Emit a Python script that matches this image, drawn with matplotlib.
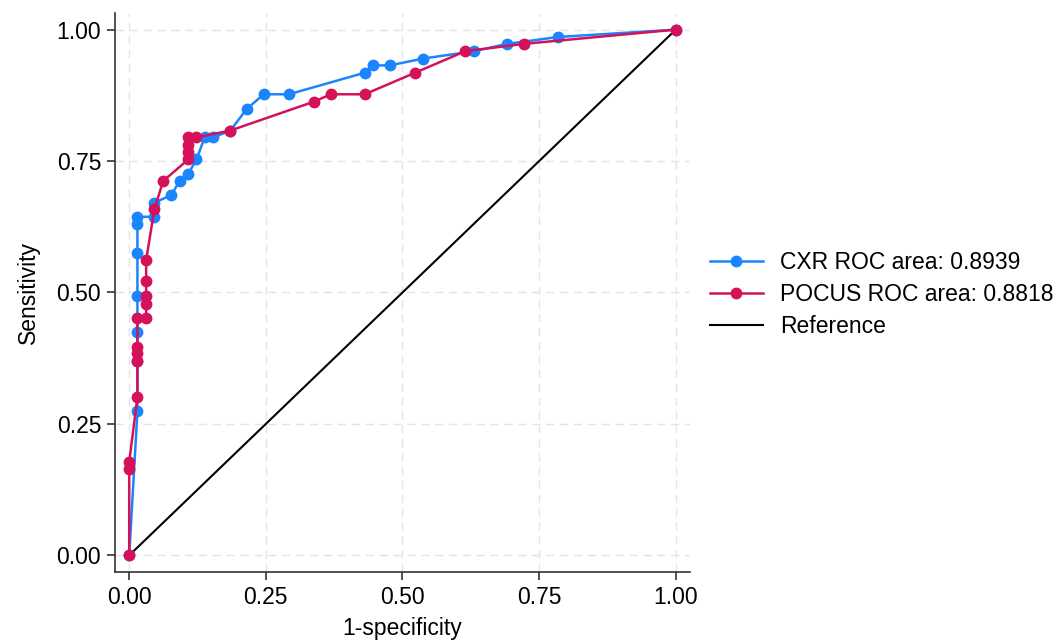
import numpy as np
import matplotlib
matplotlib.use("Agg")
import matplotlib.pyplot as plt

# ---- data ----
cxr_fpr = [0, 0.015, 0.015, 0.015, 0.015, 0.015, 0.015, 0.015, 0.046, 0.046,
           0.077, 0.092, 0.108, 0.123, 0.138, 0.154, 0.185, 0.215, 0.246, 0.292,
           0.431, 0.446, 0.477, 0.538, 0.631, 0.692, 0.785, 1.0]
cxr_tpr = [0, 0.274, 0.370, 0.425, 0.493, 0.575, 0.630, 0.644, 0.644, 0.671,
           0.685, 0.712, 0.726, 0.753, 0.795, 0.795, 0.808, 0.849, 0.877, 0.877,
           0.918, 0.932, 0.932, 0.945, 0.959, 0.973, 0.986, 1.0]

pocus_fpr = [0, 0, 0, 0.015, 0.015, 0.015, 0.015, 0.015, 0.031, 0.031,
             0.031, 0.031, 0.031, 0.046, 0.062, 0.108, 0.108, 0.108, 0.108, 0.123,
             0.185, 0.338, 0.369, 0.431, 0.523, 0.615, 0.723, 1.0]
pocus_tpr = [0, 0.164, 0.178, 0.301, 0.370, 0.384, 0.397, 0.452, 0.452, 0.479,
             0.493, 0.521, 0.562, 0.658, 0.712, 0.753, 0.767, 0.781, 0.795, 0.795,
             0.808, 0.863, 0.877, 0.877, 0.918, 0.959, 0.973, 1.0]

ref_x = [0, 1]
ref_y = [0, 1]

labels = ["CXR ROC area: 0.8939", "POCUS ROC area: 0.8818", "Reference"]
ticks = [0, 0.25, 0.5, 0.75, 1.0]
# ---------------------------------

BLUE = "#1a85ff"
RED = "#d41159"

plt.rcParams.update({"font.family": ["Liberation Sans", "DejaVu Sans"], "font.size": 16.5})

fig = plt.figure(figsize=(10.62, 6.4), dpi=100)
ax = fig.add_axes([0.1083, 0.106, 0.5414, 0.874])

l_ref, = ax.plot(ref_x, ref_y, color="black", lw=1.5, zorder=2)
l_cxr, = ax.plot(cxr_fpr, cxr_tpr, color=BLUE, lw=1.8, marker="o", ms=7.5, zorder=3)
l_poc, = ax.plot(pocus_fpr, pocus_tpr, color=RED, lw=1.8, marker="o", ms=7.5, zorder=4)

ax.set_xlim(-0.026, 1.026)
ax.set_ylim(-0.032, 1.032)
ax.set_xticks(ticks)
ax.set_yticks(ticks)
ax.set_xticklabels([f"{t:.2f}" for t in ticks])
ax.set_yticklabels([f"{t:.2f}" for t in ticks])
ax.grid(True, color="#e4e4e4", linestyle=(0, (6, 4)), lw=1.0, zorder=0)
ax.set_axisbelow(True)

for s in ["top", "right"]:
    ax.spines[s].set_visible(False)
for s in ["left", "bottom"]:
    ax.spines[s].set_color("#333333")
    ax.spines[s].set_linewidth(1.2)
ax.tick_params(direction="out", length=6, width=1.2, color="#333333", pad=4)

ax.set_xlabel("1-specificity", labelpad=6)
ax.set_ylabel("Sensitivity", labelpad=12)

fig.legend([l_cxr, l_poc, l_ref], labels, loc="center left",
           bbox_to_anchor=(0.649, 0.54), frameon=False,
           handlelength=2.3, handletextpad=0.75, labelspacing=0.4, numpoints=1)

fig.savefig("out.png", dpi=100)
